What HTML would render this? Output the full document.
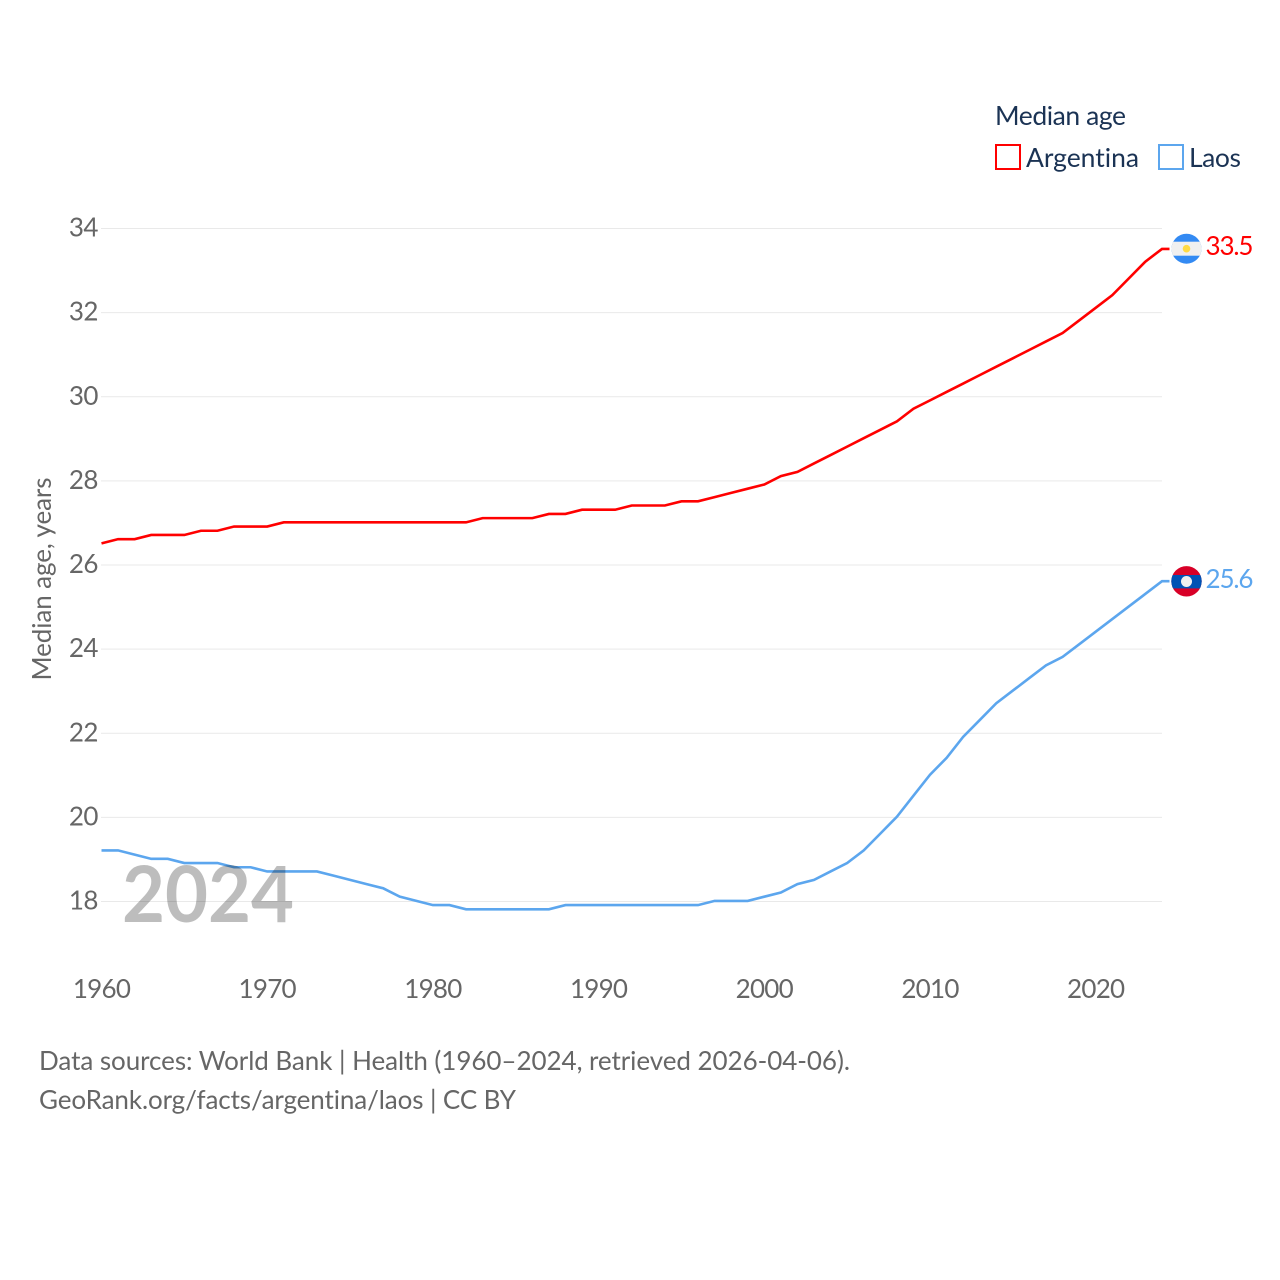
<!DOCTYPE html>
<html lang="en">
<head>
<meta charset="utf-8">
<title>Median age: Argentina and Laos</title>
<style>
html,body{margin:0;padding:0;background:#fff;width:1280px;height:1280px;overflow:hidden}
svg{display:block}
text{font-family:"Lato","Carlito","Liberation Sans",sans-serif;font-variant-ligatures:none}
</style>
</head>
<body>
<svg id="chart" xmlns="http://www.w3.org/2000/svg" width="1280" height="1280" viewBox="0 0 1280 1280">
  <rect width="1280" height="1280" fill="#fff"/>
  <g id="grid"></g>
  <g id="yticks"></g>
  <g id="xticks"></g>
  <text transform="translate(51,579) rotate(-90)" text-anchor="middle" font-size="26" fill="#666" textLength="203" lengthAdjust="spacing">Median age, years</text>
  <g id="series" transform="translate(0,-0.6)"></g>
  <text x="122" y="922" font-size="78" font-weight="700" fill="rgba(0,0,0,0.26)" textLength="172" lengthAdjust="spacingAndGlyphs">2024</text>

  <text x="995" y="125" font-size="26.5" fill="#1b3354" textLength="131" lengthAdjust="spacing">Median age</text>
  <rect x="996" y="145" width="24" height="24" fill="#fff" stroke="#ff0000" stroke-width="2"/>
  <text x="1026" y="167" font-size="26.5" fill="#1b3354" textLength="113" lengthAdjust="spacing">Argentina</text>
  <rect x="1159" y="145" width="24" height="24" fill="#fff" stroke="#5ca6ee" stroke-width="2"/>
  <text x="1189" y="167" font-size="26.5" fill="#1b3354" textLength="52" lengthAdjust="spacing">Laos</text>

  <defs>
    <clipPath id="flag-clip-ar"><circle cx="1186.5" cy="248.7" r="15"/></clipPath>
    <clipPath id="flag-clip-la"><circle cx="1186.5" cy="581.3" r="15.2"/></clipPath>
  </defs>
  <g clip-path="url(#flag-clip-ar)">
    <rect x="1171" y="233" width="31" height="32" fill="#338af3"/>
    <rect x="1171" y="241.7" width="31" height="14" fill="#f0f0f0"/>
    <circle cx="1186.5" cy="248.7" r="3.8" fill="#ffda44"/>
  </g>
  <g clip-path="url(#flag-clip-la)">
    <rect x="1171" y="566" width="31" height="31" fill="#d80027"/>
    <rect x="1171" y="575" width="31" height="13.4" fill="#0052b4"/>
    <circle cx="1186.5" cy="581.5" r="5.5" fill="#f0f0f0"/>
  </g>
  <text x="1205.5" y="255" font-size="26" fill="#ff0000" textLength="48" lengthAdjust="spacing">33.5</text>
  <text x="1205.5" y="588" font-size="26" fill="#5ca6ee" textLength="48" lengthAdjust="spacing">25.6</text>

  <text x="39" y="1070" font-size="26" fill="#666" textLength="811" lengthAdjust="spacing">Data sources: World Bank | Health (1960–2024, retrieved 2026-04-06).</text>
  <text x="39" y="1109" font-size="26" fill="#666" textLength="477" lengthAdjust="spacing">GeoRank.org/facts/argentina/laos | CC BY</text>
</svg>
<script>
const startYear = 1960;
const argentinaValues = [26.5,26.6,26.6,26.7,26.7,26.7,26.8,26.8,26.9,26.9,26.9,27.0,27.0,27.0,27.0,27.0,27.0,27.0,27.0,27.0,27.0,27.0,27.0,27.1,27.1,27.1,27.1,27.2,27.2,27.3,27.3,27.3,27.4,27.4,27.4,27.5,27.5,27.6,27.7,27.8,27.9,28.1,28.2,28.4,28.6,28.8,29.0,29.2,29.4,29.7,29.9,30.1,30.3,30.5,30.7,30.9,31.1,31.3,31.5,31.8,32.1,32.4,32.8,33.2,33.5];
const laosValues = [19.2,19.2,19.1,19.0,19.0,18.9,18.9,18.9,18.8,18.8,18.7,18.7,18.7,18.7,18.6,18.5,18.4,18.3,18.1,18.0,17.9,17.9,17.8,17.8,17.8,17.8,17.8,17.8,17.9,17.9,17.9,17.9,17.9,17.9,17.9,17.9,17.9,18.0,18.0,18.0,18.1,18.2,18.4,18.5,18.7,18.9,19.2,19.6,20.0,20.5,21.0,21.4,21.9,22.3,22.7,23.0,23.3,23.6,23.8,24.1,24.4,24.7,25.0,25.3,25.6];
const yTickValues = [18,20,22,24,26,28,30,32,34];
const xTickYears = [1960,1970,1980,1990,2000,2010,2020];

const NS = 'http://www.w3.org/2000/svg';
function xScale(year){ return 101.5 + (year - 1960) * (1162 - 101.5) / 64; }
function yScale(v){ return 901.5 - (v - 18) * (901.5 - 228.5) / 16; }

const grid = document.getElementById('grid');
const yticks = document.getElementById('yticks');
const xticks = document.getElementById('xticks');
const seriesGroup = document.getElementById('series');

yTickValues.forEach(function(v){
  const line = document.createElementNS(NS,'line');
  
  
  line.setAttribute('x1', 101);
  line.setAttribute('x2', 1162);
  line.setAttribute('y1', yScale(v));
  line.setAttribute('y2', yScale(v));
  line.setAttribute('stroke', '#e9e9e9');
  line.setAttribute('stroke-width', '1');
  grid.appendChild(line);

  const t = document.createElementNS(NS,'text');
  
  
  t.setAttribute('x', 98);
  t.setAttribute('y', yScale(v) + 8);
  t.setAttribute('text-anchor', 'end');
  t.setAttribute('font-size', '26');
  t.setAttribute('letter-spacing', '-0.5');
  t.setAttribute('fill', '#666');
  t.textContent = v;
  yticks.appendChild(t);
});

xTickYears.forEach(function(y){
  const t = document.createElementNS(NS,'text');
  
  
  t.setAttribute('x', xScale(y));
  t.setAttribute('y', 998);
  t.setAttribute('text-anchor', 'middle');
  t.setAttribute('font-size', '26');
  t.setAttribute('letter-spacing', '-0.75');
  t.setAttribute('fill', '#666');
  t.textContent = y;
  xticks.appendChild(t);
});

function linePoints(values){
  const pts = values.map(function(v,i){ return xScale(startYear + i).toFixed(2) + ',' + yScale(v).toFixed(2); });
  const lastValue = values[values.length - 1];
  pts.push('1169.5,' + yScale(lastValue).toFixed(2));
  return pts.join(' ');
}

const argentinaLine = document.createElementNS(NS,'polyline');


argentinaLine.setAttribute('points', linePoints(argentinaValues));
argentinaLine.setAttribute('fill', 'none');
argentinaLine.setAttribute('stroke', '#ff0000');
argentinaLine.setAttribute('stroke-width', '2.6');
seriesGroup.appendChild(argentinaLine);

const laosLine = document.createElementNS(NS,'polyline');


laosLine.setAttribute('points', linePoints(laosValues));
laosLine.setAttribute('fill', 'none');
laosLine.setAttribute('stroke', '#5ca6ee');
laosLine.setAttribute('stroke-width', '2.6');
seriesGroup.appendChild(laosLine);
</script>
</body>
</html>
